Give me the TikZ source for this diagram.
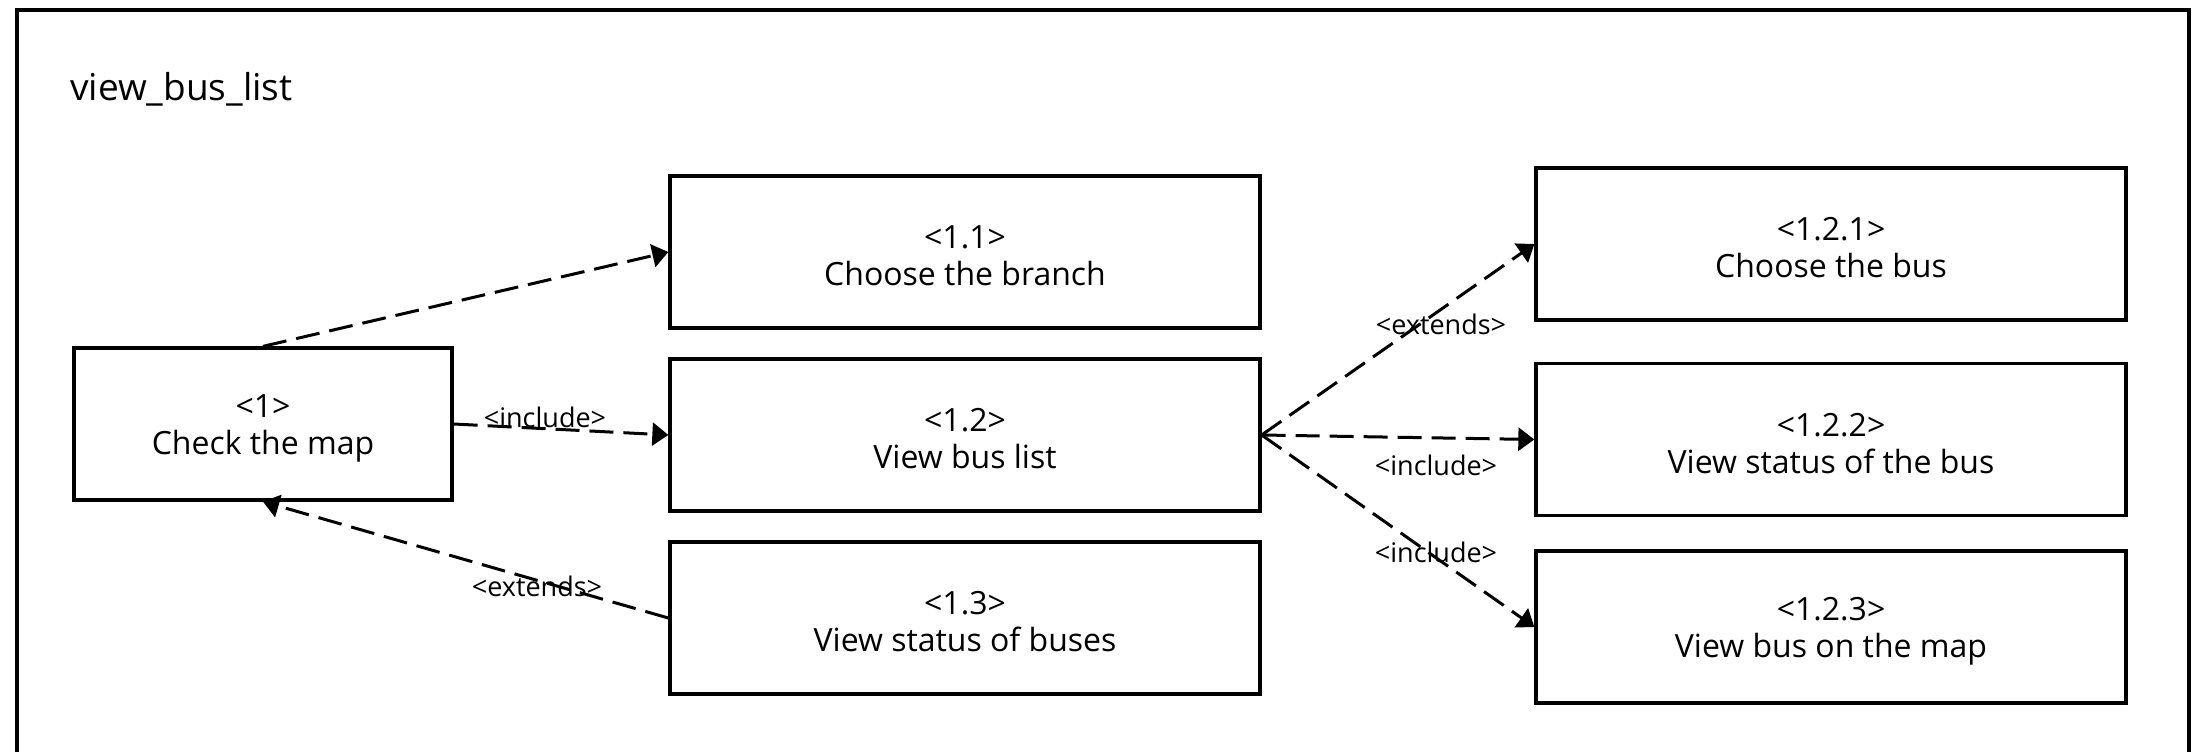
\documentclass[tikz,border=0pt]{standalone}
\usepackage{fontspec}
\setmainfont{Open Sans}
\usetikzlibrary{arrows.meta}
% invisible strut that sets the height of a box's first text line
\newcommand{\topstrut}{\rule{0pt}{31pt}}
\begin{document}
\begin{tikzpicture}[x=1pt,y=-1pt,
  usecase/.style={draw, line width=3.3pt, minimum height=152pt, inner sep=0pt,
    align=center, font=\fontsize{32}{37}\selectfont},
  narrowcase/.style={usecase, minimum width=378pt},
  widecase/.style={usecase, minimum width=590pt},
  rel/.style={draw, line width=3pt, dash pattern=on 24pt off 10pt,
    -{Triangle[length=16pt,width=23pt]}},
  lbl/.style={inner sep=0pt, font=\fontsize{27}{32}\selectfont}]
\useasboundingbox (0,0) rectangle (2209,752);

% package frame, open at the bottom edge
\draw[line width=3.3pt] (17,780) -- (17,10) -- (2189,10) -- (2189,780);
\node[anchor=west, inner sep=0pt, font=\fontsize{37}{44}\selectfont] (title) at (70,89) {view\_bus\_list};

% use cases
\node[narrowcase] (u1)   at (263,424) {\topstrut<1>\\Check the map};
\node[widecase]   (u11)  at (965,252) {\topstrut<1.1>\\Choose the branch};
\node[widecase]   (u12)  at (965,435) {\topstrut<1.2>\\View bus list};
\node[widecase]   (u13)  at (965,618) {\topstrut<1.3>\\View status of buses};
\node[widecase]   (u121) at (1831,244) {\topstrut<1.2.1>\\Choose the bus};
\node[widecase]   (u122) at (1831,439.5) {\topstrut<1.2.2>\\View status of the bus};
\node[widecase]   (u123) at (1831,627) {\topstrut<1.2.3>\\View bus on the map};

% relations
\draw[rel] (u1.north) -- (u11.west);
\draw[rel] (u1.east) -- (u12.west);
\draw[rel] (u13.west) -- (u1.south);
\draw[rel] (u12.east) -- (u121.west);
\draw[rel] (u12.east) -- (u122.west);
\draw[rel] (u12.east) -- (u123.west);

% relation labels
\node[lbl] (l1)   at (545,417) {<include>};
\node[lbl] (l13)  at (537,586) {<extends>};
\node[lbl] (l121) at (1441,324) {<extends>};
\node[lbl] (l122) at (1436,465) {<include>};
\node[lbl] (l123) at (1436,552) {<include>};
\end{tikzpicture}
\end{document}
